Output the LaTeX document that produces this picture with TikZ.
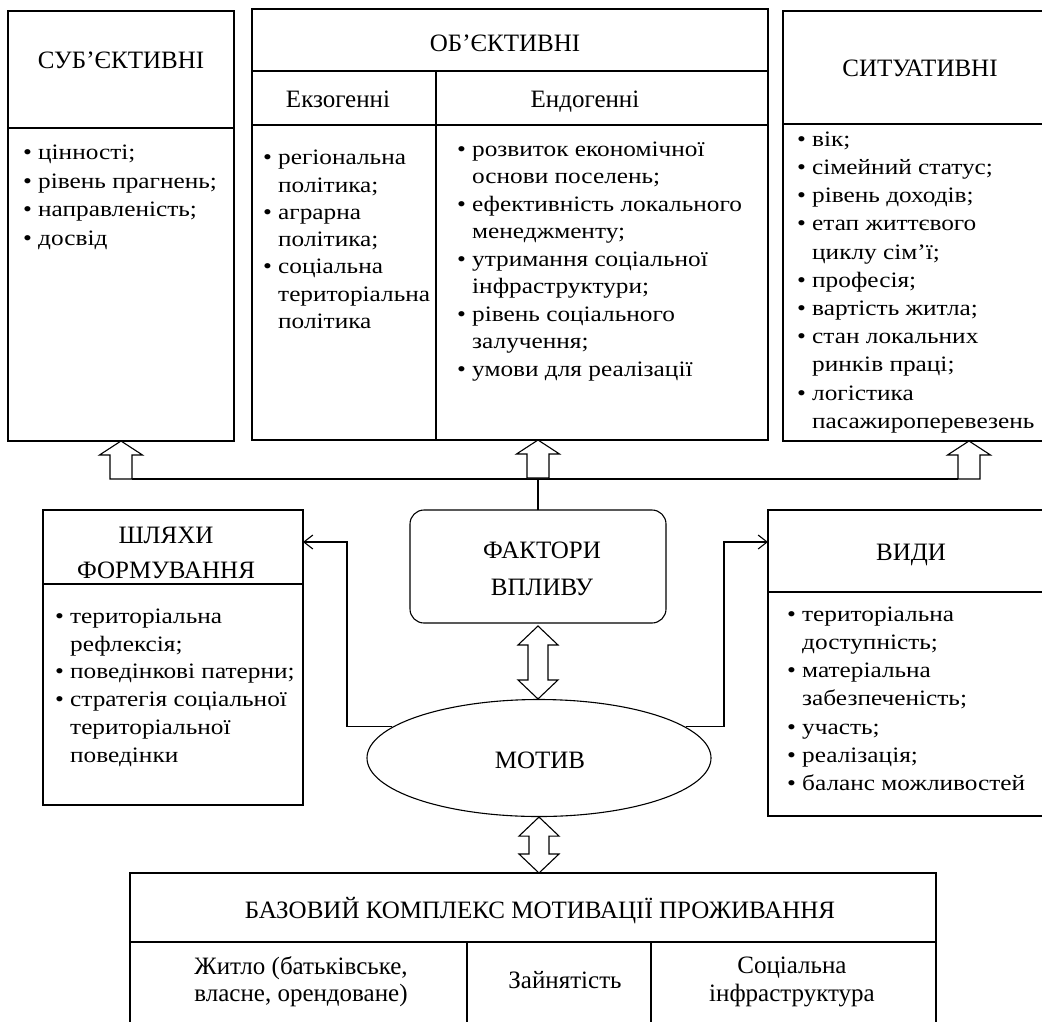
\documentclass[tikz,border=0pt]{standalone}
\usepackage{fontspec}
\setmainfont{Liberation Serif}
\newfontfamily\bodyfont{Liberation Serif}[FakeStretch=1.15]
\usetikzlibrary{shapes.geometric,arrows.meta,calc}
\newcommand{\bl}{\strut\makebox[15pt][l]{•}}
\newcommand{\cn}{\strut\hspace*{15pt}}
\tikzset{
  box/.style={draw, line width=1.1pt, inner sep=0pt, outer sep=0pt, anchor=north west},
  hd/.style={font=\fontsize{25}{30}\selectfont, inner sep=0pt, anchor=base},
  lst/.style={font=\bodyfont\fontsize{22}{#1}\selectfont, inner sep=0pt, anchor=north west, align=left, yshift={0.7*#1pt}},
  div/.style={line width=1.1pt},
  hollow/.style={draw, line width=1.1pt, fill=white, line join=miter},
  arr/.style={line width=1.1pt, -{Straight Barb[length=9pt,width=14pt,line width=1.1pt]}},
  bus/.style={line width=2pt},
}
\begin{document}
\begin{tikzpicture}[x=1pt,y=-1pt]
\path[fill=white,use as bounding box] (0,0) rectangle (1042,1021);

% ---------- top boxes ----------
\node[box, minimum width=226pt, minimum height=430pt] (subj) at (8,11) {};
\draw[div] ([yshift=-117pt]subj.north west) -- ([yshift=-117pt]subj.north east);

\node[box, minimum width=516pt, minimum height=431pt] (obj) at (252,9) {};
\draw[div] ([yshift=-62pt]obj.north west) -- ([yshift=-62pt]obj.north east);
\draw[div] ([yshift=-116pt]obj.north west) -- ([yshift=-116pt]obj.north east);
\draw[div] ([xshift=184pt,yshift=-62pt]obj.north west) -- ([xshift=184pt]obj.south west);

\node[box, minimum width=271pt, minimum height=430pt] (sit) at (783,11) {};
\draw[div] ([yshift=-113pt]sit.north west) -- ([yshift=-113pt]sit.north east);

% headers
\node[hd] (subjT) at (121,68) {СУБ’ЄКТИВНІ};
\node[hd] (objT) at (505,51) {ОБ’ЄКТИВНІ};
\node[hd] (exoT) at (338,107) {Екзогенні};
\node[hd] (endoT) at (585,107) {Ендогенні};
\node[hd] (sitT) at (920,76) {СИТУАТИВНІ};

% lists
\node[lst=28.5] (subjL) at (23,159.3) {\bl цінності;\\ \bl рівень прагнень;\\ \bl направленість;\\ \bl досвід};
\node[lst=27.3] (exoL) at (263,164.5) {\bl регіональна\\ \cn політика;\\ \bl аграрна\\ \cn політика;\\ \bl соціальна\\ \cn територіальна\\ \cn політика};
\node[lst=27.5] (endoL) at (457,156) {\bl розвиток економічної\\ \cn основи поселень;\\ \bl ефективність локального\\ \cn менеджменту;\\ \bl утримання соціальної\\ \cn інфраструктури;\\ \bl рівень соціального\\ \cn залучення;\\ \bl умови для реалізації};
\node[lst=28.2] (sitL) at (797,146) {\bl вік;\\ \bl сімейний статус;\\ \bl рівень доходів;\\ \bl етап життєвого\\ \cn циклу сім’ї;\\ \bl професія;\\ \bl вартість житла;\\ \bl стан локальних\\ \cn ринків праці;\\ \bl логістика\\ \cn пасажироперевезень};

% ---------- middle ----------
\node[box, rounded corners=14pt, minimum width=256pt, minimum height=113pt] (factors) at (410,510) {};
\node[hd] (factT1) at (542,558) {ФАКТОРИ};
\node[hd] (factT2) at (542,595) {ВПЛИВУ};

\node[box, minimum width=260pt, minimum height=295pt] (paths) at (43,510) {};
\draw[div] ([yshift=-74pt]paths.north west) -- ([yshift=-74pt]paths.north east);
\node[hd] (pathT1) at (166,543) {ШЛЯХИ};
\node[hd] (pathT2) at (166,578) {ФОРМУВАННЯ};
\node[lst=27.8] (pathL) at (55,623) {\bl територіальна\\ \cn рефлексія;\\ \bl поведінкові патерни;\\ \bl стратегія соціальної\\ \cn територіальної\\ \cn поведінки};

\node[box, minimum width=286pt, minimum height=306pt] (vydy) at (768,510) {};
\draw[div] ([yshift=-82pt]vydy.north west) -- ([yshift=-82pt]vydy.north east);
\node[hd] (vydyT) at (911,560) {ВИДИ};
\node[lst=28.2] (vydyL) at (787,621) {\bl територіальна\\ \cn доступність;\\ \bl матеріальна\\ \cn забезпеченість;\\ \bl участь;\\ \bl реалізація;\\ \bl баланс можливостей};

\node[draw, ellipse, line width=1.1pt, inner sep=0pt, minimum width=344pt, minimum height=117pt] (motiv) at (539,758) {};
\node[hd] (motivT) at (540,768) {МОТИВ};

% ---------- bottom ----------
\node[box, minimum width=806pt, minimum height=170pt] (base) at (130,873) {};
\draw[div] ([yshift=-69pt]base.north west) -- ([yshift=-69pt]base.north east);
\draw[div] ([xshift=337pt,yshift=-69pt]base.north west) -- ([xshift=337pt]base.south west);
\draw[div] ([xshift=521pt,yshift=-69pt]base.north west) -- ([xshift=521pt]base.south west);
\node[hd] (baseT) at (540,918) {БАЗОВИЙ КОМПЛЕКС МОТИВАЦІЇ ПРОЖИВАННЯ};
\node[hd] (homeT1) at (301,974) {Житло (батьківське,};
\node[hd] (homeT2) at (301,1001) {власне, орендоване)};
\node[hd] (jobT) at (565,988) {Зайнятість};
\node[hd] (infT1) at (792,973) {Соціальна};
\node[hd] (infT2) at (792,1001) {інфраструктура};

% ---------- connectors ----------
\coordinate (busL) at ([xshift=11pt,yshift=-38pt]subj.south);
\coordinate (busR) at ([xshift=175pt,yshift=-38pt]sit.south west);
\draw[bus] (busL) -- (busR);
\draw[div] (factors.north) -- (factors.north |- busL);

\draw[hollow] (subj.south) -- ++(21.5,14) -- ++(-10.5,0) -- ++(0,24) -- ++(-22,0) -- ++(0,-24) -- ++(-10.5,0) -- cycle;
\draw[hollow] (factors.north |- obj.south) -- ++(21.5,14) -- ++(-10.5,0) -- ++(0,24) -- ++(-22,0) -- ++(0,-24) -- ++(-10.5,0) -- cycle;
\draw[hollow] ([xshift=186pt]sit.south west) -- ++(21.5,14) -- ++(-10.5,0) -- ++(0,24) -- ++(-22,0) -- ++(0,-24) -- ++(-10.5,0) -- cycle;

\draw[hollow] let \p1=([yshift=-3pt]factors.south), \p2=(motiv.north) in
  (\p1) -- (\x1+20pt,\y1-19pt) -- (\x1+10pt,\y1-19pt) -- (\x1+10pt,\y2+19pt) -- (\x1+20pt,\y2+19pt)
  -- (\x1,\y2) -- (\x1-20pt,\y2+19pt) -- (\x1-10pt,\y2+19pt) -- (\x1-10pt,\y1-19pt) -- (\x1-20pt,\y1-19pt) -- cycle;
\draw[hollow] let \p1=(motiv.south), \p2=(base.north) in
  (\p1) -- (\x1+20pt,\y1-19pt) -- (\x1+10pt,\y1-19pt) -- (\x1+10pt,\y2+19pt) -- (\x1+20pt,\y2+19pt)
  -- (\x1,\y2) -- (\x1-20pt,\y2+19pt) -- (\x1-10pt,\y2+19pt) -- (\x1-10pt,\y1-19pt) -- (\x1-20pt,\y1-19pt) -- cycle;

\coordinate (bendL) at (347,542);
\coordinate (bendR) at (724,542);
\draw[arr] (motiv.168) -| (bendL) -- (bendL -| paths.east);
\draw[arr] (motiv.12) -| (bendR) -- (bendR -| vydy.west);
\end{tikzpicture}
\end{document}
